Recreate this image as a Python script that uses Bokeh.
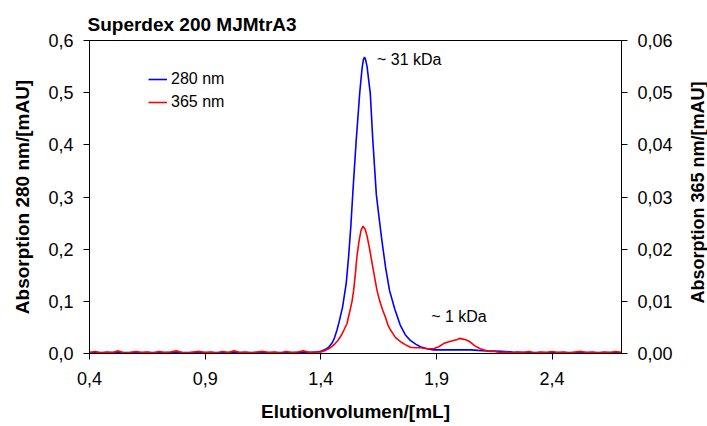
import math
from bokeh.plotting import figure
from bokeh.layouts import row
from bokeh.models import (Range1d, LinearAxis, FixedTicker, Legend, LegendItem,
                          ColumnDataSource, LabelSet, Label)
from bokeh.core.properties import value
from bokeh.embed import file_html
from bokeh.resources import INLINE

# ---------------- data ----------------
vol_280 = [0.40, 0.60, 0.80, 1.00, 1.20, 1.30, 1.38, 1.40, 1.42, 1.434,
           1.45, 1.46, 1.47, 1.48, 1.494, 1.51, 1.52, 1.53, 1.539, 1.553,
           1.568, 1.578, 1.584, 1.589, 1.594, 1.60, 1.614, 1.625, 1.640, 1.652,
           1.664, 1.68, 1.697, 1.72, 1.743, 1.765, 1.787, 1.81, 1.83, 1.86,
           1.886, 1.93, 2.00, 2.05, 2.08, 2.12, 2.18, 2.23, 2.30, 2.50, 2.70]
abs_280 = [0.002, 0.002, 0.002, 0.002, 0.002, 0.002, 0.003, 0.004, 0.008, 0.012,
           0.021, 0.031, 0.045, 0.062, 0.089, 0.135, 0.185, 0.245, 0.312, 0.408,
           0.498, 0.545, 0.563, 0.568, 0.563, 0.550, 0.498, 0.408, 0.305, 0.260,
           0.217, 0.165, 0.121, 0.085, 0.055, 0.036, 0.025, 0.018, 0.013, 0.009,
           0.007, 0.007, 0.007, 0.007, 0.006, 0.005, 0.004, 0.003, 0.002, 0.002, 0.002]

vol_365 = [0.400, 0.425, 0.450, 0.475, 0.500, 0.525, 0.550, 0.575, 0.600, 0.625,
           0.650, 0.675, 0.700, 0.725, 0.750, 0.775, 0.800, 0.825, 0.850, 0.875,
           0.900, 0.925, 0.950, 0.975, 1.000, 1.025, 1.050, 1.075, 1.100, 1.125,
           1.150, 1.175, 1.200, 1.225, 1.250, 1.275, 1.300, 1.325, 1.350, 1.375,
           1.400, 1.420, 1.434, 1.450, 1.462, 1.474, 1.490, 1.500, 1.513, 1.525,
           1.535, 1.542, 1.550, 1.556, 1.565, 1.574, 1.582, 1.592, 1.600, 1.610,
           1.617, 1.625, 1.635, 1.643, 1.655, 1.667, 1.679, 1.690, 1.700, 1.712,
           1.722, 1.735, 1.750, 1.765, 1.787, 1.810, 1.830, 1.860, 1.887, 1.910,
           1.931, 1.950, 1.974, 1.990, 2.000, 2.010, 2.030, 2.046, 2.065, 2.089,
           2.110, 2.132,
           2.150, 2.175, 2.200, 2.225, 2.250, 2.275, 2.300, 2.325, 2.350, 2.375,
           2.400, 2.425, 2.450, 2.475, 2.500, 2.525, 2.550, 2.575, 2.600, 2.625,
           2.650, 2.675, 2.700]
abs_365 = [0.0002, 0.0004, 0.0001, 0.0003, 0.0002, 0.0005, 0.0001, 0.0002, 0.0004, 0.0002,
           0.0003, 0.0001, 0.0004, 0.0002, 0.0003, 0.0005, 0.0002, 0.0001, 0.0003, 0.0004,
           0.0002, 0.0003, 0.0001, 0.0004, 0.0002, 0.0005, 0.0002, 0.0003, 0.0001, 0.0003,
           0.0004, 0.0002, 0.0003, 0.0001, 0.0004, 0.0002, 0.0003, 0.0005, 0.0002, 0.0003,
           0.0003, 0.0006, 0.0009, 0.0014, 0.0019, 0.0025, 0.0036, 0.0045, 0.0057, 0.0080,
           0.0100, 0.0121, 0.0155, 0.0185, 0.0215, 0.0236, 0.0244, 0.0238, 0.0225, 0.0203,
           0.0185, 0.0165, 0.0140, 0.0121, 0.0100, 0.0084, 0.0070, 0.0055, 0.0046, 0.0038,
           0.0031, 0.0026, 0.0021, 0.0017, 0.0012, 0.0011, 0.0011, 0.0009, 0.0009, 0.0013,
           0.0019, 0.0022, 0.0025, 0.0027, 0.0029, 0.0028, 0.0026, 0.0022, 0.0015, 0.0009,
           0.0006, 0.0004,
           0.0004, 0.0002, 0.0003, 0.0001, 0.0003, 0.0002, 0.0004, 0.0001, 0.0003, 0.0002,
           0.0004, 0.0002, 0.0003, 0.0001, 0.0003, 0.0004, 0.0002, 0.0003, 0.0001, 0.0003,
           0.0002, 0.0004, 0.0002]

x_ticks = [0.4, 0.9, 1.4, 1.9, 2.4]
x_tick_labels = ["0,4", "0,9", "1,4", "1,9", "2,4"]
yl_ticks = [0.0, 0.1, 0.2, 0.3, 0.4, 0.5, 0.6]
yl_tick_labels = ["0,0", "0,1", "0,2", "0,3", "0,4", "0,5", "0,6"]
yr_ticks = [0.0, 0.01, 0.02, 0.03, 0.04, 0.05, 0.06]
yr_tick_labels = ["0,00", "0,01", "0,02", "0,03", "0,04", "0,05", "0,06"]

series_names = ["280 nm", "365 nm"]
note_text = ["~ 31 kDa", "~ 1 kDa"]
note_x = [1.643, 1.877]
note_y = [0.564, 0.070]

# ---------------- main figure ----------------
FONT = "Liberation Sans"

p = figure(width=686, height=426, output_backend="svg", toolbar_location=None,
           x_range=Range1d(0.4, 2.7), y_range=Range1d(0.0, 0.6),
           min_border_left=89, min_border_right=65, min_border_top=40,
           min_border_bottom=73)
p.extra_y_ranges = {"r365": Range1d(0.0, 0.06)}

p.title.text = "Superdex 200 MJMtrA3"
p.title.text_font = FONT
p.title.text_font_size = "19px"
p.title.text_font_style = "bold"
p.title.text_color = "black"
p.title.align = "left"
p.title.offset = -2
p.title.standoff = 11

p.xgrid.visible = False
p.ygrid.visible = False
p.outline_line_color = "black"
p.outline_line_alpha = 1
p.outline_line_width = 1
p.background_fill_color = "white"
p.border_fill_color = "white"

raxis = LinearAxis(y_range_name="r365")
p.add_layout(raxis, "right")

p.xaxis.ticker = FixedTicker(ticks=x_ticks)
p.xaxis.major_label_overrides = dict(zip(x_ticks, x_tick_labels))
p.yaxis[0].ticker = FixedTicker(ticks=yl_ticks)
p.yaxis[0].major_label_overrides = dict(zip(yl_ticks, yl_tick_labels))
raxis.ticker = FixedTicker(ticks=yr_ticks)
raxis.major_label_overrides = dict(zip(yr_ticks, yr_tick_labels))

p.xaxis.axis_label = "Elutionvolumen/[mL]"
p.yaxis[0].axis_label = "Absorption 280 nm/[mAU]"

for ax in [p.xaxis[0], p.yaxis[0], raxis]:
    ax.axis_line_color = "black"
    ax.axis_line_width = 1
    ax.major_tick_line_color = "black"
    ax.major_tick_out = 6
    ax.major_tick_in = 0
    ax.minor_tick_line_color = None
    ax.major_label_text_font = FONT
    ax.major_label_text_font_size = "18px"
    ax.major_label_text_color = "black"
    ax.axis_label_text_font = FONT
    ax.axis_label_text_font_size = "19px"
    ax.axis_label_text_font_style = "bold"
    ax.axis_label_text_color = "black"
    ax.major_label_standoff = 10

p.xaxis[0].major_label_standoff = 12
p.xaxis[0].axis_label_standoff = 13
p.yaxis[0].axis_label_standoff = 12

src280 = ColumnDataSource(dict(x=vol_280, y=abs_280))
src365 = ColumnDataSource(dict(x=vol_365, y=abs_365))
rb = p.line("x", "y", source=src280, line_color="#0000FF", line_width=1.6)
rr = p.line("x", "y", source=src365, line_color="#FF0000", line_width=1.6,
            y_range_name="r365")

legend = Legend(items=[LegendItem(label=series_names[0], renderers=[rb]),
                       LegendItem(label=series_names[1], renderers=[rr])],
                location=(59, 241), padding=0, margin=0, spacing=3,
                glyph_width=19, glyph_height=20, label_height=20,
                label_standoff=4, background_fill_alpha=0,
                border_line_alpha=0, label_text_font=FONT,
                label_text_font_size="16px", label_text_color="black")
p.add_layout(legend)

notes = ColumnDataSource(dict(x=note_x, y=note_y, t=note_text))
p.add_layout(LabelSet(x="x", y="y", text="t", source=notes,
                      text_font=value(FONT), text_font_size="16px",
                      text_align="left", text_baseline="middle",
                      text_color="black"))

# ---------------- narrow strip carrying the right axis title ----------------
# (its frame is aligned with the main frame by the row layout)
side = figure(width=21, height=426, output_backend="svg", toolbar_location=None,
              x_range=Range1d(0, 1), y_range=Range1d(0, 1),
              x_axis_location=None, y_axis_location=None,
              min_border=0, outline_line_color=None)
side.grid.visible = False
side.background_fill_color = "white"
side.border_fill_color = "white"
side.add_layout(Label(x=11, y=161, x_units="screen", y_units="screen",
                      text="Absorption 365 nm/[mAU]", angle=math.pi / 2,
                      text_align="center", text_baseline="middle",
                      text_font=FONT, text_font_size="18px",
                      text_font_style="bold", text_color="black"))

layout = row(p, side, spacing=0)
open("out.html", "w").write(file_html(layout, INLINE))
